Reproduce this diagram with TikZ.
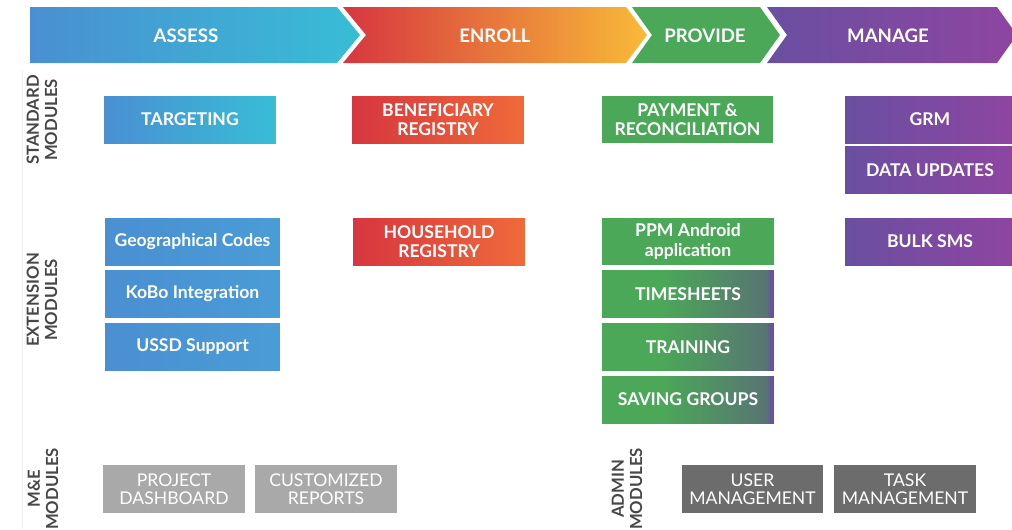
\documentclass[tikz,border=0pt]{standalone}
\usepackage{fontspec}
\setmainfont{Lato}
\usepackage{tikz}
\usetikzlibrary{positioning}
\definecolor{assessL}{HTML}{4A8FD2}
\definecolor{assessR}{HTML}{38BDD6}
\definecolor{extR}{HTML}{4A9CD6}
\definecolor{enrollL}{HTML}{D7363F}
\definecolor{enrollM}{HTML}{EF6A3A}
\definecolor{enrollR}{HTML}{F8BA38}
\definecolor{provG}{HTML}{4BA858}
\definecolor{fadeG}{HTML}{587572}
\definecolor{manL}{HTML}{6A4FA1}
\definecolor{manR}{HTML}{8E45A1}
\definecolor{labgray}{HTML}{474747}
\definecolor{meGray}{HTML}{A9A9A9}
\definecolor{admGray}{HTML}{6C6C6C}
\pgfdeclarehorizontalshading{greenfade}{100bp}{color(0bp)=(provG); color(25bp)=(provG);
  color(42bp)=(provG); color(72.6bp)=(fadeG); color(74.3bp)=(manL); color(100bp)=(manL)}

\begin{document}
\begin{tikzpicture}[x=0.02cm,y=-0.02cm,
    phase/.style={text=white,font=\bfseries\fontsize{10.6}{11}\selectfont},
    modbox/.style={minimum width=3.44cm,minimum height=0.94cm,inner sep=0pt,
      text=white,align=center,font=\bfseries\fontsize{10}{11}\selectfont},
    extbox/.style={modbox,minimum width=3.5cm,left color=assessL,right color=extR},
    graybox/.style={modbox,minimum width=2.84cm,minimum height=0.96cm,
      font=\fontsize{10}{10.4}\selectfont},
    rowlabel/.style={rotate=90,align=center,text=labgray,
      font=\bfseries\fontsize{9.5}{10.3}\selectfont}]
  \useasboundingbox (0,0) rectangle (1012,529);
  \clip (0,0) rectangle (1012,529);
  % faint guide line
  \draw[gray!12] (22,70) -- (22,529);
  % Draw the phase chevrons
  \shade[left color=assessL,right color=assessR] (30,7) -- (337,7) -- (360,35) -- (337,63) -- (30,63) -- cycle;
  \shade[left color=enrollL,middle color=enrollM,right color=enrollR] (343,7) -- (626,7) -- (647,35) -- (626,63) -- (343,63) -- (366,35) -- cycle;
  \fill[provG] (632,7) -- (760,7) -- (780,35) -- (760,63) -- (632,63) -- (652,35) -- cycle;
  \shade[left color=manL,right color=manR] (767,7) -- (997,7) -- (1017,35) -- (997,63) -- (767,63) -- (787,35) -- cycle;
  \node[phase] (assess) at (186,36) {ASSESS};
  \node[phase] (enroll) at (495,36) {ENROLL};
  \node[phase] (provide) at (705,36) {PROVIDE};
  \node[phase] (manage) at (888,36) {MANAGE};
  % row labels
  \node[rowlabel] (stdlab) at (42,120) {STANDARD\\MODULES};
  \node[rowlabel] (extlab) at (42,300) {EXTENSION\\MODULES};
  \node[rowlabel] (melab) at (43,489) {M\&E\\MODULES};
  \node[rowlabel] (admlab) at (627,489) {ADMIN\\MODULES};
  % standard modules
  \node[modbox,left color=assessL,right color=assessR] (targeting) at (190,119.5) {TARGETING};
  \node[modbox,left color=enrollL,right color=enrollM] (benreg) at (438,119.5) {BENEFICIARY\\REGISTRY};
  \node[modbox,fill=provG] (payment) at (687.5,119.5) {PAYMENT \&\\RECONCILIATION};
  \node[modbox,minimum width=3.4cm,left color=manL,right color=manR] (grm) at (930,119.5) {GRM};
  \node[modbox,minimum width=3.4cm,left color=manL,right color=manR] (dataupd) at (930,170) {DATA UPDATES};
  % extension modules
  \node[extbox] (geocodes) at (192.5,241.5) {Geographical Codes};
  \node[extbox] (kobo) at (192.5,293.5) {KoBo Integration};
  \node[extbox] (ussd) at (192.5,346.5) {USSD Support};
  \node[modbox,left color=enrollL,right color=enrollM] (hhreg) at (439,241.5) {HOUSEHOLD\\REGISTRY};
  \node[modbox,fill=provG] (ppm) at (688,241.5) {PPM Android\\application};
  \node[modbox,shading=greenfade] (timesheets) at (688,294) {TIMESHEETS};
  \node[modbox,shading=greenfade] (training) at (688,347) {TRAINING};
  \node[modbox,shading=greenfade] (saving) at (688,399.5) {SAVING GROUPS};
  \node[modbox,minimum width=3.4cm,left color=manL,right color=manR] (bulksms) at (930,241.5) {BULK SMS};
  % M&E and admin modules
  \node[graybox,fill=meGray] (dashboard) at (174,489) {PROJECT\\DASHBOARD};
  \node[graybox,fill=meGray] (reports) at (326,489) {CUSTOMIZED\\REPORTS};
  \node[graybox,fill=admGray] (usermgmt) at (752.5,489) {USER\\MANAGEMENT};
  \node[graybox,fill=admGray] (taskmgmt) at (905,489) {TASK\\MANAGEMENT};
\end{tikzpicture}
\end{document}
